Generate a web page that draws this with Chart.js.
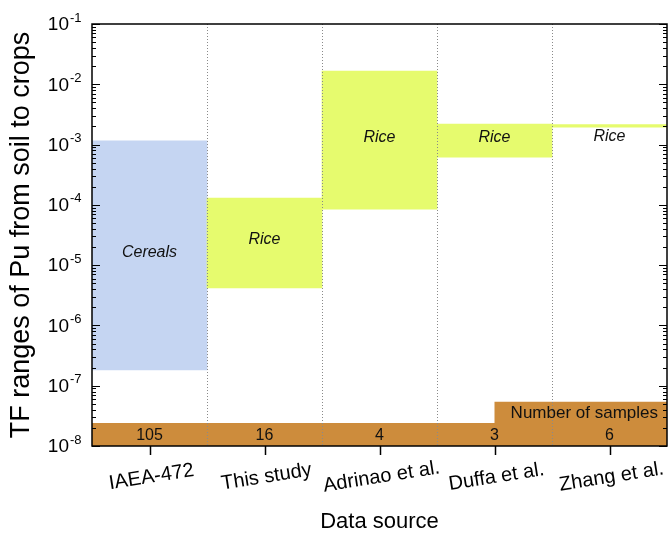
<!DOCTYPE html>
<html>
<head>
<meta charset="utf-8">
<script src="https://cdn.jsdelivr.net/npm/chart.js@4.4.1/dist/chart.umd.min.js"></script>
<style>
	html, body { margin: 0; padding: 0; background: #fff; }
</style>
</head>
<body>
<canvas id="tf-chart" width="668" height="535"></canvas>
<script>
const sources = ['IAEA-472', 'This study', 'Adrinao et al.', 'Duffa et al.', 'Zhang et al.'];
const cropNames = ['Cereals', 'Rice', 'Rice', 'Rice', 'Rice'];
const tfLow = [1.82e-7, 4.2e-6, 8.5e-5, 6.2e-4, 1.95e-3];
const tfHigh = [1.15e-3, 1.3e-4, 1.66e-2, 2.19e-3, 2.15e-3];
const sampleCounts = [105, 16, 4, 3, 6];
const yExponents = [-1, -2, -3, -4, -5, -6, -7, -8];

// "Number of samples" band, x in category units (0..5)
const bandX = [0, 3.5, 3.5, 5];
const bandY = [2.4e-8, 2.4e-8, 5.4e-8, 5.4e-8];

const FONT = '"Liberation Sans", Arial, sans-serif';
const barColors = ['#c5d5f2', '#e6fb6e', '#e6fb6e', '#e6fb6e', '#e6fb6e'];
const bandColor = '#cd8c3c';

function drawPlugin() {
	return {
		id: 'decor',
		afterDatasetsDraw(chart) {
			const ctx = chart.ctx;
			const area = chart.chartArea;
			const x = chart.scales.x;
			const y = chart.scales.y;

			ctx.save();

			// dotted separators
			ctx.strokeStyle = '#8a8a8a';
			ctx.lineWidth = 1;
			ctx.setLineDash([1, 2]);
			for (let i = 0; i < sources.length - 1; i++) {
				const px = Math.round((x.getPixelForValue(i) + x.getPixelForValue(i + 1)) / 2) + 0.5;
				ctx.beginPath();
				ctx.moveTo(px, area.top);
				ctx.lineTo(px, area.bottom);
				ctx.stroke();
			}
			ctx.setLineDash([]);

			// text in bars
			ctx.fillStyle = '#111';
			ctx.font = 'italic 16px ' + FONT;
			ctx.textAlign = 'center';
			ctx.textBaseline = 'middle';
			sources.forEach((s, i) => {
				let v = Math.sqrt(tfLow[i] * tfHigh[i]);
				if (tfHigh[i] / tfLow[i] < 2) {
					v = tfLow[i] / 1.6;
				}
				ctx.fillText(cropNames[i], x.getPixelForValue(i), y.getPixelForValue(v) - 3);
			});

			// sample counts
			ctx.font = '16px ' + FONT;
			sampleCounts.forEach((n, i) => {
				ctx.fillText(String(n), x.getPixelForValue(i), area.bottom - 10);
			});
			ctx.font = '17px ' + FONT;
			ctx.textAlign = 'right';
			ctx.fillText('Number of samples', area.right - 9, area.bottom - 33);

			// frame
			ctx.strokeStyle = '#000';
			ctx.lineWidth = 1.5;
			ctx.strokeRect(area.left, area.top, area.right - area.left, area.bottom - area.top);

			// y ticks (inward, both sides)
			ctx.lineWidth = 1;
			for (let e = -8; e <= -1; e++) {
				for (let m = 1; m <= 9; m++) {
					const v = m * Math.pow(10, e);
					if (v > 0.1 + 1e-12) break;
					const py = Math.round(y.getPixelForValue(v)) + 0.5;
					const len = m === 1 ? 8 : 4;
					ctx.beginPath();
					ctx.moveTo(area.left, py);
					ctx.lineTo(area.left + len, py);
					ctx.moveTo(area.right, py);
					ctx.lineTo(area.right - len, py);
					ctx.stroke();
				}
			}

			// x ticks (outward)
			ctx.lineWidth = 1.5;
			sources.forEach((s, i) => {
				const px = Math.round(x.getPixelForValue(i)) + 0.5;
				ctx.beginPath();
				ctx.moveTo(px, area.bottom);
				ctx.lineTo(px, area.bottom + 9);
				ctx.stroke();
			});

			// y tick labels 10^n
			ctx.fillStyle = '#000';
			yExponents.forEach(e => {
				const py = y.getPixelForValue(Math.pow(10, e));
				ctx.font = '19px ' + FONT;
				ctx.textAlign = 'right';
				ctx.textBaseline = 'middle';
				ctx.fillText('10', 69, py + 1);
				ctx.font = '13px ' + FONT;
				ctx.textAlign = 'left';
				ctx.fillText(String(e), 70, py - 6);
			});

			// x tick labels, slightly rotated
			ctx.font = '20px ' + FONT;
			ctx.textAlign = 'center';
			ctx.textBaseline = 'middle';
			sources.forEach((s, i) => {
				ctx.save();
				ctx.translate(x.getPixelForValue(i) + 2, area.bottom + 31);
				ctx.rotate(-9 * Math.PI / 180);
				ctx.fillText(s, 0, 0);
				ctx.restore();
			});

			// axis titles
			ctx.font = '22px ' + FONT;
			ctx.fillText('Data source', (area.left + area.right) / 2, 522);
			ctx.save();
			ctx.translate(22, (area.top + area.bottom) / 2);
			ctx.rotate(-Math.PI / 2);
			ctx.font = '27px ' + FONT;
			ctx.fillText('TF ranges of Pu from soil to crops', 0, 0);
			ctx.restore();

			ctx.restore();
		}
	};
}

const canvas = document.getElementById('tf-chart');

new Chart(canvas, {
	type: 'bar',
	data: {
		labels: sources,
		datasets: [
			{
				type: 'bar',
				data: sources.map((s, i) => [tfLow[i], tfHigh[i]]),
				backgroundColor: barColors,
				borderWidth: 0,
				grouped: false,
				barPercentage: 1,
				categoryPercentage: 1
			},
			{
				type: 'line',
				xAxisID: 'x2',
				data: bandX.map((v, i) => ({ x: v, y: bandY[i] })),
				backgroundColor: bandColor,
				borderWidth: 0,
				pointRadius: 0,
				fill: 'start',
				tension: 0
			}
		]
	},
	options: {
		responsive: false,
		animation: false,
		devicePixelRatio: 1,
		layout: {
			padding: { left: 92, top: 24, right: 1, bottom: 89 }
		},
		scales: {
			x: { type: 'category', display: false, offset: true },
			x2: { type: 'linear', display: false, min: 0, max: 5, offset: false, grid: { offset: false } },
			y: { type: 'logarithmic', display: false, min: 1e-8, max: 1e-1 }
		},
		plugins: {
			legend: { display: false },
			tooltip: { enabled: false }
		}
	},
	plugins: [drawPlugin()]
});
</script>
</body>
</html>
